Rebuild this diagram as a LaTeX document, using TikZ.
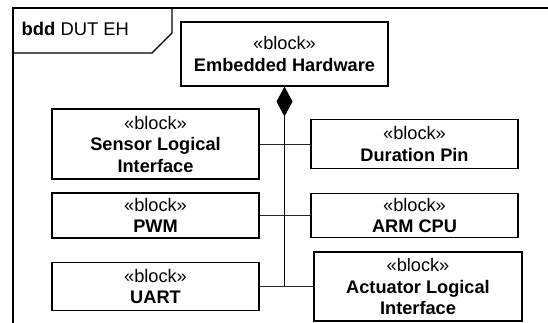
\documentclass[tikz,border=0pt]{standalone}
\usepackage{fontspec}
\setmainfont{Liberation Sans}
\usetikzlibrary{positioning,arrows.meta}

\tikzset{
  blk/.style={draw, line width=1.2pt, fill=white, minimum width=207pt,
    align=center, inner sep=0pt, font=\fontsize{18.2}{21.5}\selectfont},
  link/.style={line width=0.8pt, black!85},
}

\begin{document}
\begin{tikzpicture}[x=1pt,y=-1pt]
  \useasboundingbox (0,0) rectangle (548,323);
  \clip (0,0) rectangle (548,323);

  % diagram frame with name tab
  \draw[line width=1.2pt] (13,340) -- (13,8) -- (560,8);
  \draw[line width=1.2pt] (13,53) -- (152,53) -- (172,33) -- (172,8);
  \node[anchor=west, inner sep=0pt, font=\fontsize{18.4}{21}\selectfont] (title) at (21.5,29) {\textbf{bdd} DUT EH};

  % blocks
  \node[blk, minimum height=64pt] (emb) at (284.5,54) {«block»\\[1pt]\textbf{Embedded Hardware}};
  \node[blk, minimum height=70pt] (sli) at (155.5,144) {«block»\\\textbf{Sensor Logical}\\\textbf{Interface}};
  \node[blk, minimum height=45pt] (pwm) at (155.5,215.5) {«block»\\\textbf{PWM}};
  \node[blk, minimum height=48pt] (uart) at (155.5,286.5) {«block»\\\textbf{UART}};
  \node[blk, minimum height=49pt] (dur) at (414.5,144) {«block»\\\textbf{Duration Pin}};
  \node[blk, minimum height=44pt] (cpu) at (414.5,215.5) {«block»\\\textbf{ARM CPU}};
  \node[blk, minimum height=69pt, minimum width=208pt] (ali) at (418,286.5) {«block»\\\textbf{Actuator Logical}\\\textbf{Interface}};

  % composition tree
  \draw[line width=1.2pt, {Diamond[length=30pt,width=16pt]}-] (emb.south) -- (emb.south |- uart.east);
  \draw[link] (sli.east) -- (dur.west);
  \draw[link] (pwm.east) -- (cpu.west);
  \draw[link] (uart.east) -- (ali.west);
\end{tikzpicture}
\end{document}
